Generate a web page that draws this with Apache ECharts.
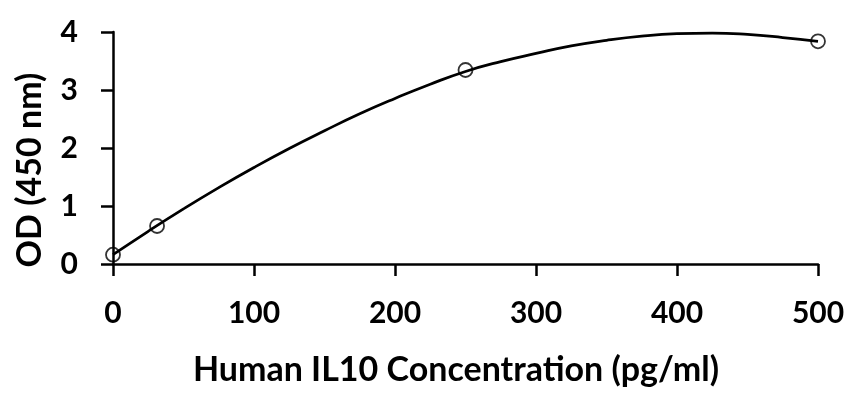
<!DOCTYPE html>
<html>
<head>
<meta charset="utf-8">
<script src="https://cdn.jsdelivr.net/npm/echarts@6/dist/echarts.min.js"></script>
<style>
html,body{margin:0;padding:0;background:#fff;}
#chart{width:856px;height:396px;}
</style>
</head>
<body>
<div id="chart"></div>
<script>
// Measured standard points (concentration pg/ml, OD 450 nm)
const pointX = [0, 31.25, 250, 500];
const pointY = [0.16, 0.655, 3.345, 3.84];

// Fitted curve
const curveX = [0, 25, 50, 75, 100, 125, 150, 175, 200, 225, 250, 275, 300, 325, 350, 375, 400, 425, 450, 475, 500];
const curveY = [0.16, 0.564, 0.950, 1.317, 1.664, 1.991, 2.297, 2.590, 2.855, 3.100, 3.320, 3.490, 3.630, 3.760, 3.857, 3.929, 3.970, 3.980, 3.957, 3.905, 3.840];

const xTicks = [0, 100, 200, 300, 400, 500];
const yTicks = [0, 1, 2, 3, 4];

const xTitle = 'Human IL10 Concentration (pg/ml)';
const yTitle = 'OD (450 nm)';

const FONT = 'Lato';
const chart = echarts.init(document.getElementById('chart'), null, {renderer: 'canvas'});

const axisCommon = {
  axisLine: {show: true, onZero: false, lineStyle: {color: '#000', width: 2.5}},
  axisTick: {show: true, inside: false, length: 12, lineStyle: {color: '#000', width: 2.5}},
  splitLine: {show: false}
};

chart.setOption({
  backgroundColor: '#fff',
  animation: false,
  grid: {left: 113, right: 38, top: 32, bottom: 132, containLabel: false},
  xAxis: Object.assign({
    type: 'value',
    min: xTicks[0], max: xTicks[xTicks.length - 1], interval: 100,
    axisLabel: {margin: 34, fontFamily: FONT, fontWeight: 'bold', fontSize: 30, color: '#000'}
  }, axisCommon),
  yAxis: Object.assign({
    type: 'value',
    min: yTicks[0], max: yTicks[yTicks.length - 1], interval: 1,
    axisLabel: {margin: 35, fontFamily: FONT, fontWeight: 'bold', fontSize: 30, color: '#000'}
  }, axisCommon),
  graphic: [
    {
      type: 'text', x: 456, y: 370,
      style: {text: xTitle, fontFamily: FONT, fontWeight: 'bold', fontSize: 34, fill: '#000',
              align: 'center', verticalAlign: 'middle'}
    },
    {
      type: 'text', x: 30, y: 170, rotation: Math.PI / 2,
      style: {text: yTitle, fontFamily: FONT, fontWeight: 'bold', fontSize: 34, fill: '#000',
              align: 'center', verticalAlign: 'middle'}
    }
  ],
  series: [
    {
      type: 'line',
      data: curveX.map((x, i) => [x, curveY[i]]),
      smooth: true,
      showSymbol: false,
      lineStyle: {color: '#000', width: 2.75},
      z: 2
    },
    {
      type: 'scatter',
      data: pointX.map((x, i) => [x, pointY[i]]),
      symbol: 'circle',
      symbolSize: 14,
      itemStyle: {color: 'rgba(0,0,0,0)', borderColor: '#000', borderWidth: 1.8},
      z: 3
    }
  ]
});
</script>
</body>
</html>
